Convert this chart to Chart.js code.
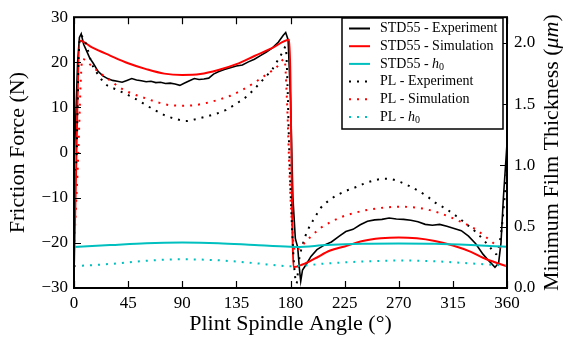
<!DOCTYPE html>
<html>
<head>
<meta charset="utf-8">
<script src="https://cdn.jsdelivr.net/npm/chart.js@4"></script>
<style>
  html, body { margin: 0; padding: 0; background: #fff; }
</style>
</head>
<body>
<canvas id="chart" width="565" height="340"></canvas>
<script>
/* Friction force vs spindle angle */
var SERIF = '"Liberation Serif", "DejaVu Serif", serif';

var angleTicks = [0, 45, 90, 135, 180, 225, 270, 315, 360];
var forceTicks = [-30, -20, -10, 0, 10, 20, 30];
var filmTicks = [0, 0.5, 1.0, 1.5, 2.0];

// STD55 - Experiment
var stdExpAngle = [0, 1.5, 3, 4.5, 6, 8, 10, 13, 16, 20, 24, 28, 32, 36, 40, 44, 48, 52, 56, 60, 64, 68, 72, 76, 80, 84, 88, 92, 96, 100, 104, 108, 112, 116, 120, 125, 130, 135, 140, 145, 150, 155, 160, 165, 170, 174, 176, 178, 180, 182, 184, 186, 187.5, 188.5, 190, 193, 197, 202, 208, 214, 220, 226, 232, 238, 244, 250, 256, 262, 268, 274, 280, 286, 292, 298, 304, 310, 316, 322, 328, 334, 340, 345, 350, 353, 355, 357, 360];
var stdExpForce = [-3, 8, 20, 25.5, 26.3, 24, 22.8, 21, 19.8, 18, 17, 16.4, 16, 15.8, 15.6, 16, 16.4, 16.1, 15.9, 15.7, 15.8, 15.5, 15.6, 15.3, 15.4, 15.2, 14.9, 15.4, 15.9, 16.4, 16.2, 16.3, 16.5, 17.4, 17.9, 18.4, 18.8, 19.2, 19.4, 20.1, 20.7, 21.5, 22.3, 23.2, 24.5, 26, 26.6, 25, 12, -10, -19, -21, -26, -28.5, -26, -24.8, -23, -21.5, -20.5, -19.8, -18.6, -17.5, -17, -16, -15.2, -14.9, -14.8, -14.5, -14.7, -14.8, -15, -15.3, -15.9, -16.1, -15.9, -16.3, -16.8, -17.3, -18.5, -20.2, -22.5, -24, -25.4, -24.5, -20, -10, 2];

// STD55 - Simulation
var stdSimAngle = [0, 5, 15, 30, 45, 60, 75, 90, 105, 120, 135, 150, 165, 179, 182.5, 190, 200, 213, 225, 240, 255, 270, 285, 300, 315, 330, 340, 350, 360];
var stdSimForce = [-25.2, 24.8, 23.3, 21.5, 19.8, 18.5, 17.5, 17.2, 17.4, 18.3, 19.6, 21.4, 23.2, 25, -25.4, -24.8, -23.5, -21.7, -20.8, -19.6, -19.0, -18.8, -19.0, -19.6, -20.6, -22.0, -23.3, -24.3, -25.2];

// STD55 - h0 (right axis)
var stdH0Angle = [0, 30, 60, 90, 120, 150, 180, 185, 210, 240, 270, 300, 330, 360];
var stdH0 = [0.335, 0.35, 0.365, 0.37, 0.365, 0.35, 0.336, 0.335, 0.35, 0.36, 0.362, 0.36, 0.35, 0.336];

// PL - Experiment
var plExpAngle = [0, 2, 3, 4, 6, 10, 15, 20, 26, 35, 43, 52, 60, 68, 76, 84, 93, 101, 110, 118, 126, 134, 143, 151, 159, 165, 170, 174, 176, 177.5, 179, 181, 183, 185, 187, 190, 194, 200, 205, 212, 219, 227, 235, 241, 249, 257, 264, 271, 278, 285, 293, 301, 310, 318, 326, 335, 341, 346, 351, 355, 360];
var plExpForce = [-4, -2, 10, 22, 25.9, 24, 19.6, 17.3, 15.2, 14, 13, 11.8, 10.5, 9.3, 8.2, 7.5, 7.0, 7.4, 8.0, 8.6, 9.4, 10.7, 12.3, 14.4, 16.7, 18.5, 20.7, 22.5, 23.5, 15, 0, -15, -25, -29, -24, -20.5, -17.4, -14.5, -12.3, -10.6, -9.4, -8.4, -7.6, -6.9, -6.2, -5.8, -5.9, -6.5, -7.3, -8.3, -9.6, -11.2, -12.6, -14.1, -15.8, -17.8, -19.5, -21.0, -22.5, -18, -4];

// PL - Simulation
var plSimAngle = [0, 3, 7, 12, 20, 30, 40, 50, 60, 70, 80, 90, 100, 110, 120, 130, 140, 150, 160, 168, 175, 177, 180, 184, 188, 191, 198, 205, 214, 224, 234, 244, 257, 271, 288, 304, 318, 332, 343, 351.5, 356, 360];
var plSimForce = [-21.5, -4, 20.8, 19.8, 18.0, 16.0, 14.1, 12.9, 12.0, 11.1, 10.5, 10.4, 10.5, 11.0, 11.7, 12.6, 13.9, 15.5, 17.3, 18.8, 20.7, 12, -10, -22, -21, -20.2, -18.3, -16.7, -15.3, -14.1, -13.3, -12.7, -12.2, -12.0, -12.3, -13.4, -14.9, -16.7, -18.8, -20.6, -21.2, -21.5];

// PL - h0 (right axis)
var plH0Angle = [0, 30, 60, 90, 120, 150, 180, 210, 240, 270, 300, 330, 360];
var plH0 = [0.178, 0.196, 0.222, 0.234, 0.226, 0.203, 0.178, 0.2, 0.216, 0.224, 0.218, 0.2, 0.182];

function pts(xs, ys) {
    return xs.map(function (x, i) { return { x: x, y: ys[i] }; });
}

var DOTS = [2, 6];

var legendLabels = [
    [{ t: 'STD55 - Experiment' }],
    [{ t: 'STD55 - Simulation' }],
    [{ t: 'STD55 - ' }, { t: 'h', italic: true }, { t: '0', sub: true }],
    [{ t: 'PL - Experiment' }],
    [{ t: 'PL - Simulation' }],
    [{ t: 'PL - ' }, { t: 'h', italic: true }, { t: '0', sub: true }]
];

function drawParts(ctx, parts, x, y, size) {
    parts.forEach(function (p) {
        var fs = p.sub ? Math.round(size * 0.7) : size;
        ctx.font = (p.italic ? 'italic ' : '') + fs + 'px ' + SERIF;
        ctx.fillText(p.t, x, y + (p.sub ? size * 0.22 : 0));
        x += ctx.measureText(p.t).width;
    });
    return x;
}

function partsWidth(ctx, parts, size) {
    var w = 0;
    parts.forEach(function (p) {
        var fs = p.sub ? Math.round(size * 0.7) : size;
        ctx.font = (p.italic ? 'italic ' : '') + fs + 'px ' + SERIF;
        w += ctx.measureText(p.t).width;
    });
    return w;
}

var framePlugin = {
    id: 'frame',
    afterDatasetsDraw: function (chart) {
        var ctx = chart.ctx, a = chart.chartArea;
        var sx = chart.scales.x, sy = chart.scales.y, sy1 = chart.scales.y1;
        var TL = 7;
        ctx.save();
        ctx.strokeStyle = '#000';
        ctx.lineWidth = 1.2;
        ctx.beginPath();
        sx.ticks.forEach(function (t) {
            var px = Math.round(sx.getPixelForValue(t.value)) + 0.5;
            ctx.moveTo(px, a.bottom); ctx.lineTo(px, a.bottom - TL);
            ctx.moveTo(px, a.top); ctx.lineTo(px, a.top + TL);
        });
        sy.ticks.forEach(function (t) {
            var py = Math.round(sy.getPixelForValue(t.value)) + 0.5;
            ctx.moveTo(a.left, py); ctx.lineTo(a.left + TL, py);
        });
        sy1.ticks.forEach(function (t) {
            var py = Math.round(sy1.getPixelForValue(t.value)) + 0.5;
            ctx.moveTo(a.right, py); ctx.lineTo(a.right - TL, py);
        });
        ctx.stroke();
        ctx.lineWidth = 2;
        ctx.strokeRect(a.left, a.top, a.right - a.left, a.bottom - a.top);
        ctx.restore();
    },
    afterDraw: function (chart) {
        var ctx = chart.ctx, a = chart.chartArea;
        ctx.save();
        ctx.fillStyle = '#000';
        ctx.textBaseline = 'middle';
        ctx.textAlign = 'left';

        // axis titles
        var TS = 22;
        var bottomTitle = [{ t: 'Plint Spindle Angle (°)' }];
        var leftTitle = [{ t: 'Friction Force (N)' }];
        var rightTitle = [{ t: 'Minimum Film Thickness (' }, { t: 'μm', italic: true }, { t: ')' }];
        var midY = (a.top + a.bottom) / 2;

        var w = partsWidth(ctx, bottomTitle, TS);
        drawParts(ctx, bottomTitle, (a.left + a.right) / 2 - w / 2, 324, TS);

        ctx.save();
        ctx.translate(18, midY);
        ctx.rotate(-Math.PI / 2);
        w = partsWidth(ctx, leftTitle, TS);
        drawParts(ctx, leftTitle, -w / 2, 0, TS);
        ctx.restore();

        ctx.save();
        ctx.translate(552, midY);
        ctx.rotate(-Math.PI / 2);
        w = partsWidth(ctx, rightTitle, TS);
        drawParts(ctx, rightTitle, -w / 2, 0, TS);
        ctx.restore();

        // legend
        var LX = 342, LY = 18, LW = 161, LH = 111, LS = 14, ROW = 17.7;
        ctx.fillStyle = '#fff';
        ctx.fillRect(LX, LY, LW, LH);
        ctx.strokeStyle = '#000';
        ctx.lineWidth = 1.5;
        ctx.strokeRect(LX, LY, LW, LH);
        chart.data.datasets.forEach(function (ds, i) {
            var y = LY + 10.5 + i * ROW;
            ctx.save();
            ctx.strokeStyle = ds.borderColor;
            ctx.lineWidth = 2;
            ctx.setLineDash(ds.borderDash || []);
            ctx.beginPath();
            ctx.moveTo(349, y);
            ctx.lineTo(370, y);
            ctx.stroke();
            ctx.restore();
            ctx.fillStyle = '#000';
            drawParts(ctx, legendLabels[i], 380, y, LS);
        });
        ctx.restore();
    }
};

function setTicks(values) {
    return function (scale) {
        scale.ticks = values.map(function (v) { return { value: v }; });
    };
}

var tickFont = { family: SERIF, size: 17 };

new Chart(document.getElementById('chart'), {
    type: 'line',
    data: {
        datasets: [
            { label: 'STD55 - Experiment', data: pts(stdExpAngle, stdExpForce), borderColor: '#000000', borderWidth: 1.6, yAxisID: 'y', order: 6 },
            { label: 'STD55 - Simulation', data: pts(stdSimAngle, stdSimForce), borderColor: '#ff0000', borderWidth: 2, yAxisID: 'y', cubicInterpolationMode: 'monotone', order: 5 },
            { label: 'STD55 - h0', data: pts(stdH0Angle, stdH0), borderColor: '#00bfbf', borderWidth: 2, yAxisID: 'y1', cubicInterpolationMode: 'monotone', order: 2 },
            { label: 'PL - Experiment', data: pts(plExpAngle, plExpForce), borderColor: '#000000', borderWidth: 2, borderDash: DOTS, yAxisID: 'y', cubicInterpolationMode: 'monotone', order: 4 },
            { label: 'PL - Simulation', data: pts(plSimAngle, plSimForce), borderColor: '#ff0000', borderWidth: 2, borderDash: DOTS, yAxisID: 'y', cubicInterpolationMode: 'monotone', order: 3 },
            { label: 'PL - h0', data: pts(plH0Angle, plH0), borderColor: '#00bfbf', borderWidth: 2, borderDash: DOTS, yAxisID: 'y1', cubicInterpolationMode: 'monotone', order: 1 }
        ]
    },
    options: {
        responsive: false,
        animation: false,
        devicePixelRatio: 1,
        elements: { point: { radius: 0 }, line: { fill: false, borderCapStyle: 'butt' } },
        layout: { padding: { top: 12, left: 0, right: 0, bottom: 0 } },
        plugins: { legend: { display: false }, tooltip: { enabled: false } },
        scales: {
            x: {
                type: 'linear', min: 0, max: 360,
                afterBuildTicks: setTicks(angleTicks),
                afterFit: function (s) { s.height = 52; },
                grid: { display: false, drawTicks: false },
                border: { display: false },
                ticks: { font: tickFont, color: '#000', padding: 5, maxRotation: 0 }
            },
            y: {
                type: 'linear', position: 'left', min: -30, max: 30,
                afterBuildTicks: setTicks(forceTicks),
                afterFit: function (s) { s.width = 74; },
                grid: { display: false, drawTicks: false },
                border: { display: false },
                ticks: {
                    font: tickFont, color: '#000', padding: 6,
                    callback: function (v) { return v < 0 ? '\u2212' + Math.abs(v) : String(v); }
                }
            },
            y1: {
                type: 'linear', position: 'right', min: 0, max: 2.208,
                afterBuildTicks: setTicks(filmTicks),
                afterFit: function (s) { s.width = 58; },
                grid: { display: false, drawTicks: false },
                border: { display: false },
                ticks: {
                    font: tickFont, color: '#000', padding: 7,
                    callback: function (v) { return v.toFixed(1); }
                }
            }
        }
    },
    plugins: [framePlugin]
});
</script>
</body>
</html>
